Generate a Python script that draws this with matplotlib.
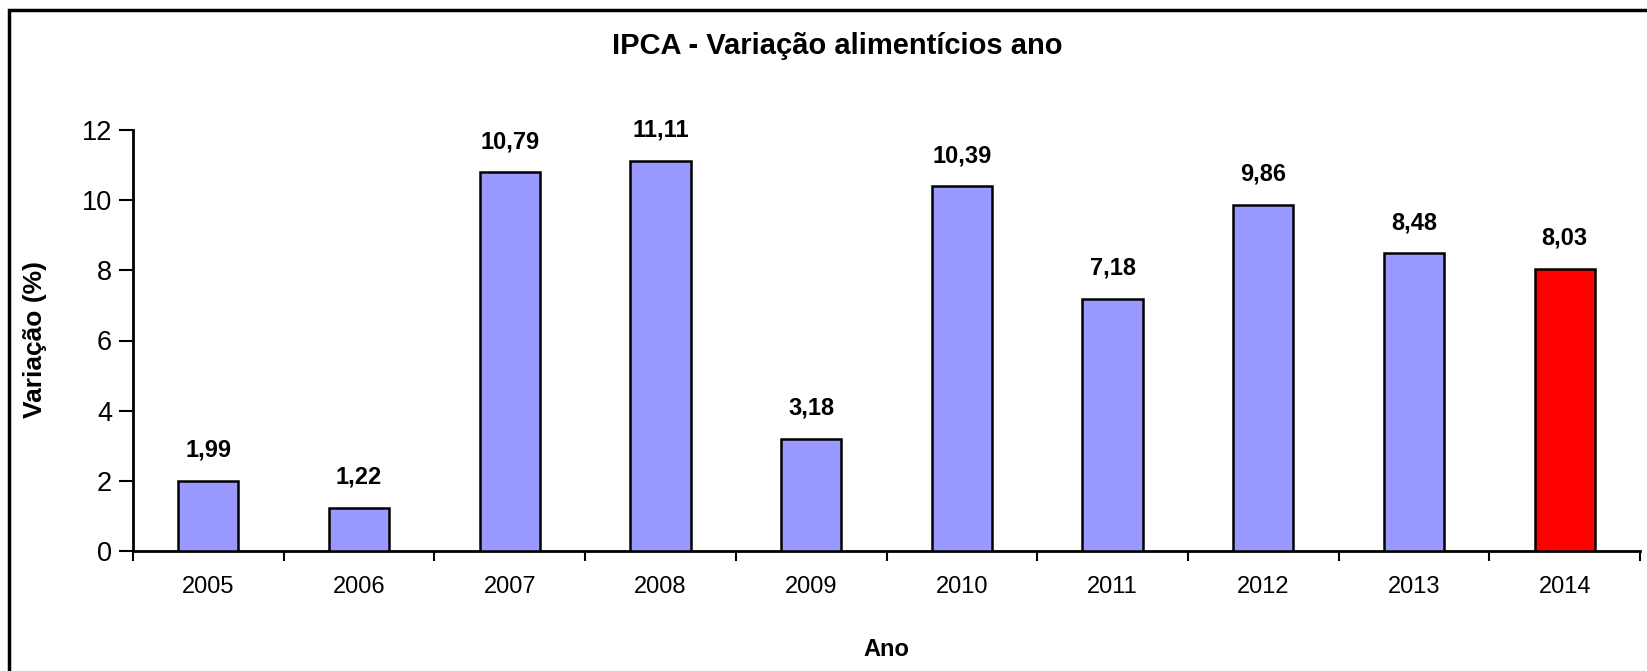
import matplotlib
matplotlib.use("Agg")
import matplotlib.pyplot as plt
from matplotlib.patches import Rectangle
import numpy as np

years = ["2005", "2006", "2007", "2008", "2009", "2010", "2011", "2012", "2013", "2014"]
values = [1.99, 1.22, 10.79, 11.11, 3.18, 10.39, 7.18, 9.86, 8.48, 8.03]
colors = ["#9999FF"] * 9 + ["#FF0000"]
yticks = [0, 2, 4, 6, 8, 10, 12]

plt.rcParams['font.family'] = ['Liberation Sans', 'DejaVu Sans']

W, H = 1647, 671
fig = plt.figure(figsize=(W / 100, H / 100), dpi=100)
ax = fig.add_axes([133 / W, 1 - 551 / H, (1640 - 133) / W, (551 - 130) / H])

x = np.arange(len(years))
ax.bar(x, values, width=0.4, color=colors, edgecolor="black", linewidth=1.8, zorder=3)

for xi, v in zip(x, values):
    ax.annotate(f"{v:.2f}".replace(".", ","), (xi, v), xytext=(0, 14), textcoords="offset points",
                ha="center", va="bottom", fontsize=17, fontweight="bold")

ax.set_xlim(-0.5, len(years) - 0.5)
ax.set_ylim(0, 12)
ax.set_yticks(yticks)
ax.set_yticklabels([str(t) for t in yticks], fontsize=19.5)
ax.set_xticks(x)
ax.set_xticklabels(years, fontsize=17)
ax.set_xticks(np.arange(-0.5, len(years), 1.0), minor=True)
ax.tick_params(axis="x", which="major", length=0, pad=18)
ax.tick_params(axis="x", which="minor", length=7, width=1.5, direction="out")
ax.tick_params(axis="y", length=10, width=1.5, direction="out", pad=5)

for s in ["top", "right"]:
    ax.spines[s].set_visible(False)
for s in ["left", "bottom"]:
    ax.spines[s].set_linewidth(2)

fig.text(837 / W, 1 - 46 / H, "IPCA - Variação alimentícios ano", ha="center", va="center",
         fontsize=21, fontweight="bold")
fig.text(35 / W, 1 - 340 / H, "Variação (%)", ha="center", va="center", rotation=90,
         fontsize=19, fontweight="bold")
fig.text(886 / W, 1 - 649 / H, "Ano", ha="center", va="center", fontsize=17, fontweight="bold")

fig.patches.append(Rectangle((9 / W, -0.1), 1.2, 1 - 10 / H + 0.1, transform=fig.transFigure,
                             fill=False, edgecolor="black", linewidth=2.5))

fig.savefig("out.png", dpi=100, facecolor="white")
